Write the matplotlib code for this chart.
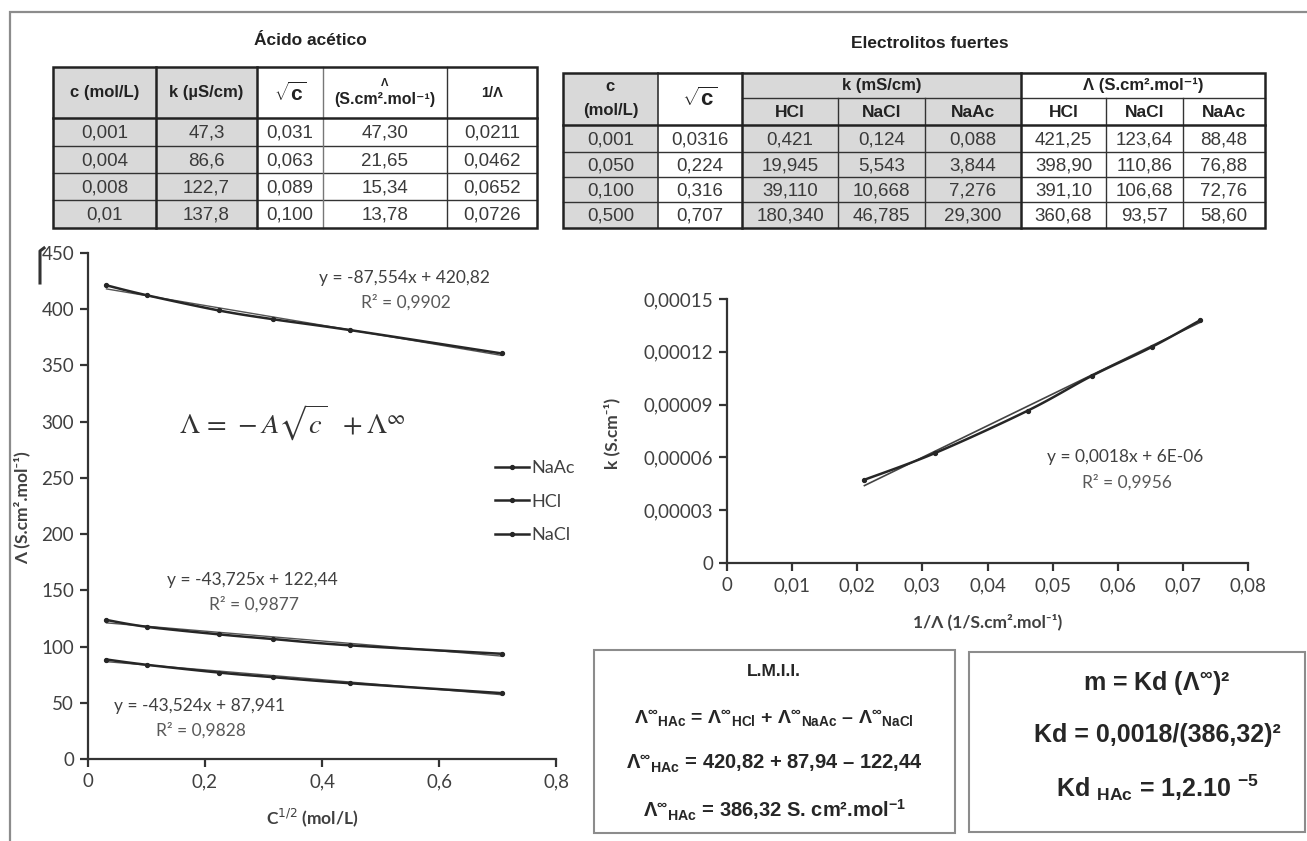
import numpy as np
import matplotlib
matplotlib.use('Agg')
import matplotlib.pyplot as plt
from matplotlib.patches import Rectangle
from matplotlib.lines import Line2D
from matplotlib.ticker import FuncFormatter, MultipleLocator

plt.rcParams['mathtext.fontset'] = 'custom'
plt.rcParams['mathtext.rm'] = 'Liberation Sans'
plt.rcParams['mathtext.bf'] = 'Liberation Sans:bold'
plt.rcParams['mathtext.it'] = 'Liberation Sans:italic'

# ---------------- data ----------------
# Left chart: Lambda vs sqrt(c) for strong electrolytes
sqrt_c = [0.0316, 0.1000, 0.2236, 0.3162, 0.4472, 0.7071]
lam_HCl = [421.25, 412.5, 398.90, 391.10, 381.5, 360.68]
lam_NaCl = [123.64, 117.6, 110.86, 106.68, 101.1, 93.57]
lam_NaAc = [88.48, 83.8, 76.88, 72.76, 67.4, 58.60]
series_names = ['NaAc', 'HCl', 'NaCl']
fit_slopes = [-43.524, -87.554, -43.725]
fit_intercepts = [87.941, 420.82, 122.44]
fit_labels = ['y = -43,524x + 87,941\nR² = 0,9828',
              'y = -87,554x + 420,82\nR² = 0,9902',
              'y = -43,725x + 122,44\nR² = 0,9877']

# Right chart: k vs 1/Lambda (acetic acid)
inv_lam = [0.0211, 0.0319, 0.0462, 0.0560, 0.0652, 0.0726]
k_Scm = [4.73e-5, 6.24e-5, 8.66e-5, 1.063e-4, 1.227e-4, 1.378e-4]
kd_slope = 0.0018
kd_intercept = 6e-6

# Acetic acid table
acet_c = ['0,001', '0,004', '0,008', '0,01']
acet_k = ['47,3', '86,6', '122,7', '137,8']
acet_sqrt = ['0,031', '0,063', '0,089', '0,100']
acet_lam = ['47,30', '21,65', '15,34', '13,78']
acet_inv = ['0,0211', '0,0462', '0,0652', '0,0726']

# Strong electrolytes table
strong_c = ['0,001', '0,050', '0,100', '0,500']
strong_sqrt = ['0,0316', '0,224', '0,316', '0,707']
k_HCl = ['0,421', '19,945', '39,110', '180,340']
k_NaCl = ['0,124', '5,543', '10,668', '46,785']
k_NaAc = ['0,088', '3,844', '7,276', '29,300']
L_HCl = ['421,25', '398,90', '391,10', '360,68']
L_NaCl = ['123,64', '110,86', '106,68', '93,57']
L_NaAc = ['88,48', '76,88', '72,76', '58,60']

# ---------------- figure ----------------
W, H = 1307, 841
fig = plt.figure(figsize=(W / 100, H / 100), dpi=100)
fig.patch.set_facecolor('white')

ov = fig.add_axes([0, 0, 1, 1], zorder=0)
ov.set_xlim(0, W)
ov.set_ylim(H, 0)
ov.axis('off')

TXT = '#404040'
LINE = '#262626'
GRAY = '#d9d9d9'
CHART_FONT = ['Lato', 'DejaVu Sans']
TAB_FONT = ['Liberation Sans', 'DejaVu Sans']

# outer frame
ov.plot([10, 10, W], [H, 12, 12], color='#8c8c8c', lw=1.6, solid_joinstyle='miter')
# small artefact near the top-left
ov.plot([40, 40, 44], [283, 251, 248], color='#333333', lw=2.2)


def px2fig(x0, y0, x1, y1):
    return [x0 / W, 1 - y1 / H, (x1 - x0) / W, (y1 - y0) / H]


def smooth(ax, x, y, n=24):
    x = np.asarray(x, float)
    y = np.asarray(y, float)
    x0, x1 = ax.get_xlim()
    y0, y1 = ax.get_ylim()
    bb = ax.get_position()
    sx = bb.width * W / (x1 - x0)
    sy = bb.height * H / (y1 - y0)
    P = np.column_stack([(x - x0) * sx, (y - y0) * sy])
    out = [P[0]]
    for i in range(len(P) - 1):
        p0 = P[i - 1] if i > 0 else P[i]
        p1, p2 = P[i], P[i + 1]
        p3 = P[i + 2] if i + 2 < len(P) else P[i + 1]
        c1 = p1 + (p2 - p0) / 6
        c2 = p2 - (p3 - p1) / 6
        t = np.linspace(0, 1, n)[1:, None]
        B = (1 - t) ** 3 * p1 + 3 * (1 - t) ** 2 * t * c1 + 3 * (1 - t) * t ** 2 * c2 + t ** 3 * p2
        out.extend(B)
    out = np.array(out)
    return out[:, 0] / sx + x0, out[:, 1] / sy + y0


def style_axes(ax):
    ax.set_facecolor('none')
    for s in ['top', 'right']:
        ax.spines[s].set_visible(False)
    for s in ['left', 'bottom']:
        ax.spines[s].set_color('#333333')
        ax.spines[s].set_linewidth(1.6)
    ax.tick_params(direction='out', length=6, width=1.6, color='#333333',
                   labelsize=13.5, labelcolor=TXT, pad=4)
    for lab in ax.get_xticklabels() + ax.get_yticklabels():
        lab.set_family(CHART_FONT)


def comma_fmt(dec):
    def f(v, pos):
        if abs(v) < 1e-12:
            return '0'
        return (f'{v:.{dec}f}').replace('.', ',')
    return FuncFormatter(f)


# ---------------- left chart ----------------
axL = fig.add_axes(px2fig(88, 253, 556, 759), zorder=2)
axL.set_xlim(0, 0.8)
axL.set_ylim(0, 450)
axL.xaxis.set_major_locator(MultipleLocator(0.2))
axL.yaxis.set_major_locator(MultipleLocator(50))
axL.xaxis.set_major_formatter(comma_fmt(1))
axL.yaxis.set_major_formatter(FuncFormatter(lambda v, p: f'{v:.0f}'))
style_axes(axL)

series_vals = [lam_NaAc, lam_HCl, lam_NaCl]
handles = []
for name, vals, m, b in zip(series_names, series_vals, fit_slopes, fit_intercepts):
    sx, sy = smooth(axL, sqrt_c, vals)
    axL.plot(sx, sy, color=LINE, lw=1.8, zorder=3)
    axL.plot(sqrt_c, vals, ls='none', marker='o', ms=2.8, color=LINE, zorder=4)
    xt = np.array([sqrt_c[0], sqrt_c[-1]])
    axL.plot(xt, m * xt + b, color='#555555', lw=1.0, zorder=2)
    handles.append(Line2D([], [], color=LINE, lw=1.8, marker='o', ms=2.8))

leg = axL.legend(handles, series_names, loc='upper left',
                 bbox_to_anchor=(486, 451), bbox_transform=ov.transData,
                 frameon=False, borderpad=0, handlelength=1.9, handletextpad=0.1,
                 labelspacing=0.97, prop={'family': CHART_FONT, 'size': 13})
for t in leg.get_texts():
    t.set_color(TXT)

# equations left chart
eq_pos = [(199, 706), (404, 278), (252, 580)]
for (x, y), lab in zip(eq_pos, fit_labels):
    l1, l2 = lab.split('\n')
    ov.text(x, y, l1, ha='center', va='center', fontsize=12.5, color=TXT, family=CHART_FONT)
    ov.text(x + 2, y + 24, l2, ha='center', va='center', fontsize=12.5, color='#595959', family=CHART_FONT)

ov.text(292, 423, r'$\Lambda\, =\, -\mathbf{\mathit{A}}\sqrt{\mathit{c}}\ \ +\Lambda^{\infty}$',
        ha='center', va='center', fontsize=20.5, color='#333333', math_fontfamily='stix')

ov.text(22, 508, 'Λ (S.cm².mol⁻¹)', rotation=90, ha='center', va='center',
        fontsize=12.5, fontweight='bold', color=TXT, family=CHART_FONT)
ov.text(312, 818, r'C$^{1/2}$ (mol/L)', ha='center', va='center',
        fontsize=12.5, fontweight='bold', color=TXT, family=CHART_FONT,
        math_fontfamily='dejavusans')

# ---------------- right chart ----------------
axR = fig.add_axes(px2fig(727, 299, 1248, 563), zorder=2)
axR.set_xlim(0, 0.08)
axR.set_ylim(0, 0.00015)
axR.xaxis.set_major_locator(MultipleLocator(0.01))
axR.yaxis.set_major_locator(MultipleLocator(0.00003))
axR.xaxis.set_major_formatter(comma_fmt(2))
axR.yaxis.set_major_formatter(comma_fmt(5))
style_axes(axR)

sx, sy = smooth(axR, inv_lam, k_Scm)
axR.plot(sx, sy, color=LINE, lw=1.8, zorder=3)
axR.plot(inv_lam, k_Scm, ls='none', marker='o', ms=2.8, color=LINE, zorder=4)
xt = np.array([inv_lam[0], inv_lam[-1]])
axR.plot(xt, kd_slope * xt + kd_intercept, color='#444444', lw=1.2, zorder=2)

ov.text(1125, 457, 'y = 0,0018x + 6E-06', ha='center', va='center', fontsize=12.5,
        color=TXT, family=CHART_FONT)
ov.text(1127, 482, 'R² = 0,9956', ha='center', va='center', fontsize=12.5,
        color='#595959', family=CHART_FONT)
ov.text(612, 433, 'k (S.cm⁻¹)', rotation=90, ha='center', va='center',
        fontsize=12.5, fontweight='bold', color=TXT, family=CHART_FONT)
ov.text(988, 622, '1/Λ (1/S.cm².mol⁻¹)', ha='center', va='center',
        fontsize=12.5, fontweight='bold', color=TXT, family=CHART_FONT)


# ---------------- tables ----------------
def cell_bg(x0, y0, x1, y1, color):
    ov.add_patch(Rectangle((x0, y0), x1 - x0, y1 - y0, facecolor=color, edgecolor='none', zorder=1))


def hline(y, x0, x1, lw=1.0, color='#333333'):
    ov.plot([x0, x1], [y, y], color=color, lw=lw, zorder=2, solid_capstyle='projecting')


def vline(x, y0, y1, lw=1.0, color='#333333'):
    ov.plot([x, x], [y0, y1], color=color, lw=lw, zorder=2, solid_capstyle='projecting')


def ctext(x, y, s, size=13.5, weight='normal', color='#3a3a3a', **kw):
    ov.text(x, y, s, ha='center', va='center', fontsize=size, fontweight=weight,
            color=color, family=TAB_FONT, zorder=3, **kw)


HDR = '#222222'
SQRT = r'$\mathbf{\sqrt{c}}$'

# Acetic acid table
ctext(310, 40, 'Ácido acético', size=12.5, weight='bold', color=HDR)
LX = [53, 156, 257, 323, 447, 537]
LY = [67, 118, 146, 173, 200, 228]
for ci in (0, 1):
    cell_bg(LX[ci], LY[0], LX[ci + 1], LY[-1], GRAY)
for y in LY[2:-1]:
    hline(y, LX[0], LX[-1], lw=1.0)
vline(LX[3], LY[0], LY[-1], lw=1.0, color='#777777')
vline(LX[4], LY[0], LY[-1], lw=1.0)
vline(LX[1], LY[0], LY[-1], lw=1.8, color=HDR)
vline(LX[2], LY[0], LY[-1], lw=1.8, color=HDR)
hline(LY[1], LX[0], LX[-1], lw=1.8, color=HDR)
ov.add_patch(Rectangle((LX[0], LY[0]), LX[-1] - LX[0], LY[-1] - LY[0], fill=False,
                       edgecolor=HDR, lw=1.8, zorder=2))
hc = (LY[0] + LY[1]) / 2
ctext((LX[0] + LX[1]) / 2, hc, 'c (mol/L)', size=12, weight='bold', color=HDR)
ctext((LX[1] + LX[2]) / 2, hc, 'k (µS/cm)', size=12, weight='bold', color=HDR)
ctext((LX[2] + LX[3]) / 2, hc + 1, SQRT, size=15, weight='bold', color=HDR)
ctext((LX[3] + LX[4]) / 2, hc - 10, 'Λ', size=8, weight='bold', color=HDR)
ctext((LX[3] + LX[4]) / 2, hc + 7, '(S.cm².mol⁻¹)', size=11.5, weight='bold', color=HDR)
ctext((LX[4] + LX[5]) / 2, hc, '1/Λ', size=10.5, weight='bold', color=HDR)
acet_cols = [acet_c, acet_k, acet_sqrt, acet_lam, acet_inv]
for ci, col in enumerate(acet_cols):
    for ri, s in enumerate(col):
        ctext((LX[ci] + LX[ci + 1]) / 2, (LY[ri + 1] + LY[ri + 2]) / 2 + 1, s)

# Strong electrolytes table
ctext(930, 43, 'Electrolitos fuertes', size=12.5, weight='bold', color=HDR)
RX = [563, 658, 742, 838, 925, 1021, 1106, 1183, 1265]
RY = [73, 98, 125, 152, 177, 202, 228]
cell_bg(RX[0], RY[0], RX[1], RY[-1], GRAY)
cell_bg(RX[2], RY[0], RX[5], RY[-1], GRAY)
for y in RY[3:-1]:
    hline(y, RX[0], RX[-1], lw=1.0)
hline(RY[1], RX[2], RX[-1], lw=1.0)
for xi in (3, 4, 6, 7):
    vline(RX[xi], RY[1], RY[-1], lw=1.0)
vline(RX[1], RY[0], RY[-1], lw=1.2)
vline(RX[2], RY[0], RY[-1], lw=1.8, color=HDR)
vline(RX[5], RY[0], RY[-1], lw=1.8, color=HDR)
hline(RY[2], RX[0], RX[-1], lw=1.8, color=HDR)
ov.add_patch(Rectangle((RX[0], RY[0]), RX[-1] - RX[0], RY[-1] - RY[0], fill=False,
                       edgecolor=HDR, lw=1.8, zorder=2))
ctext((RX[0] + RX[1]) / 2, 86, 'c', size=12, weight='bold', color=HDR)
ctext((RX[0] + RX[1]) / 2, 110, '(mol/L)', size=12, weight='bold', color=HDR)
ctext((RX[1] + RX[2]) / 2, 99, SQRT, size=16, weight='bold', color=HDR)
ctext((RX[2] + RX[5]) / 2, 85, 'k (mS/cm)', size=12, weight='bold', color=HDR)
ctext((RX[5] + RX[8]) / 2, 85, 'Λ (S.cm².mol⁻¹)', size=12, weight='bold', color=HDR)
for i, nm in enumerate(['HCl', 'NaCl', 'NaAc', 'HCl', 'NaCl', 'NaAc']):
    ctext((RX[i + 2] + RX[i + 3]) / 2, 112, nm, size=12.5, weight='bold', color=HDR)
strong_cols = [strong_c, strong_sqrt, k_HCl, k_NaCl, k_NaAc, L_HCl, L_NaCl, L_NaAc]
for ci, col in enumerate(strong_cols):
    for ri, s in enumerate(col):
        ctext((RX[ci] + RX[ci + 1]) / 2, (RY[ri + 2] + RY[ri + 3]) / 2 + 1, s)

# ---------------- boxes ----------------
ov.add_patch(Rectangle((594, 650), 955 - 594, 833 - 650, fill=False, edgecolor='#8c8c8c', lw=1.5, zorder=2))
ov.add_patch(Rectangle((969, 652), 1305 - 969, 832 - 652, fill=False, edgecolor='#8c8c8c', lw=1.5, zorder=2))

BOXC = '#262626'
LAM_INF = r'$\mathbf{\Lambda^{\infty}{}_{%s}}$'
ctext(774, 672, 'L.M.I.I.', size=12.5, weight='bold', color=BOXC)
ctext(774, 718, (LAM_INF % 'HAc') + ' = ' + (LAM_INF % 'HCl') + ' + '
      + (LAM_INF % 'NaAc') + ' – ' + (LAM_INF % 'NaCl'),
      size=14, weight='bold', color=BOXC)
ctext(774, 763, (LAM_INF % 'HAc') + ' = 420,82 + 87,94 – 122,44',
      size=14.5, weight='bold', color=BOXC)
ctext(774, 810, (LAM_INF % 'HAc') + r' = 386,32 S. cm².mol$^{\mathbf{-1}}$',
      size=14.5, weight='bold', color=BOXC)

ctext(1157, 683, r'm = Kd ($\mathbf{\Lambda^{\infty}}$)²', size=18, weight='bold', color=BOXC)
ctext(1157, 735, 'Kd = 0,0018/(386,32)²', size=18, weight='bold', color=BOXC)
ctext(1157, 788, r'Kd $_{\mathbf{HAc}}$ = 1,2.10 $^{\mathbf{-5}}$', size=18, weight='bold', color=BOXC)

fig.savefig('out.png', dpi=100, facecolor='white')
